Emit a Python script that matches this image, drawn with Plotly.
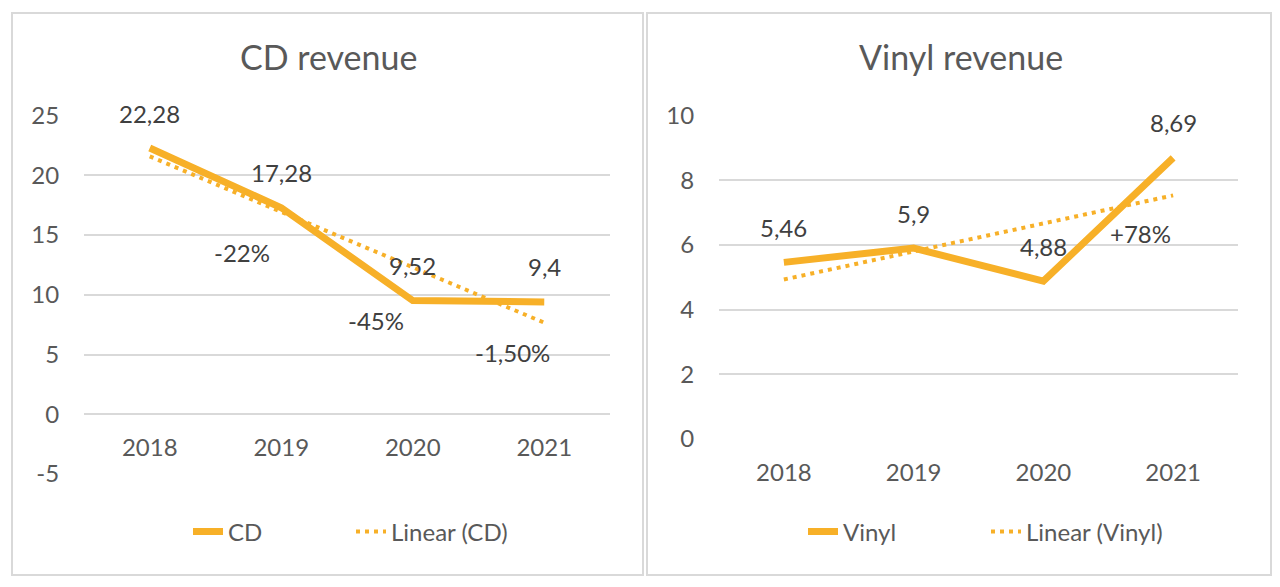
import plotly.graph_objects as go

# ---- data ----
years = ["2018", "2019", "2020", "2021"]
cd_revenue = [22.28, 17.28, 9.52, 9.4]
cd_trend = [21.58, 16.94, 12.30, 7.66]
vinyl_revenue = [5.46, 5.9, 4.88, 8.69]
vinyl_trend = [4.93, 5.80, 6.67, 7.53]

cd_pct_labels = ["-22%", "-45%", "-1,50%"]
cd_pct_x = [0.70, 1.72, 2.755]
cd_pct_y = [13.56, 7.87, 5.19]
vinyl_pct_labels = ["+78%"]
vinyl_pct_x = [2.75]
vinyl_pct_y = [6.36]

cd_ticks = [-5, 0, 5, 10, 15, 20, 25]
vinyl_ticks = [0, 2, 4, 6, 8, 10]

# ---- style ----
OFF = 8                      # page body margin
W, H = 1280 - 2 * OFF, 587 - 2 * OFF
GOLD = "#F7B028"
GRID = "#D9D9D9"
AXIS_TXT = "#595959"
LABEL_TXT = "#404040"
FONT = "Lato"

def px_x(x):
    return (x - OFF) / W

def px_y(y):
    return 1 - (y - OFF) / H

def fmt(v):
    return ("%g" % v).replace(".", ",")

xi = list(range(len(years)))

fig = go.Figure()

fig.add_trace(go.Scatter(x=xi, y=cd_revenue, mode="lines", name="CD",
                         line=dict(color=GOLD, width=7), xaxis="x", yaxis="y",
                         legend="legend"))
fig.add_trace(go.Scatter(x=xi, y=cd_trend, mode="lines", name="Linear (CD)",
                         line=dict(color=GOLD, width=4, dash="4px,5px"), xaxis="x", yaxis="y",
                         legend="legend"))
fig.add_trace(go.Scatter(x=xi, y=vinyl_revenue, mode="lines", name="Vinyl",
                         line=dict(color=GOLD, width=7), xaxis="x2", yaxis="y2",
                         legend="legend2"))
fig.add_trace(go.Scatter(x=xi, y=vinyl_trend, mode="lines", name="Linear (Vinyl)",
                         line=dict(color=GOLD, width=4, dash="4px,5px"), xaxis="x2", yaxis="y2",
                         legend="legend2"))

cd_rng = [-5, 25]
vi_rng = [0, 10]
cd_dom = [px_y(474), px_y(115.5)]
vi_dom = [px_y(439), px_y(115.5)]

def zero_pos(dom, rng):
    return dom[0] + (0 - rng[0]) / (rng[1] - rng[0]) * (dom[1] - dom[0])

xcommon = dict(range=[-0.5, 3.5], tickvals=xi, ticktext=years, showgrid=False,
               zeroline=False, showline=False, ticks="outside", ticklen=12,
               tickcolor="rgba(0,0,0,0)", tickfont=dict(size=24, color=AXIS_TXT, family=FONT),
               anchor="free", fixedrange=True, automargin=False)
ycommon = dict(showgrid=True, gridcolor=GRID, gridwidth=2, zeroline=False, showline=False,
               ticks="outside", ticklen=19, tickcolor="rgba(0,0,0,0)",
               tickfont=dict(size=24, color=AXIS_TXT, family=FONT), fixedrange=True,
               automargin=False)

legcommon = dict(orientation="h", xanchor="left", yanchor="middle",
                 font=dict(size=24, color=AXIS_TXT, family=FONT), bgcolor="rgba(0,0,0,0)",
                 entrywidthmode="pixels")

fig.update_layout(
    width=W, height=H, margin=dict(l=0, r=0, t=0, b=0, pad=0, autoexpand=False),
    paper_bgcolor="white", plot_bgcolor="white",
    font=dict(family=FONT, color=AXIS_TXT),
    xaxis=dict(domain=[px_x(84), px_x(610)], position=zero_pos(cd_dom, cd_rng), **xcommon),
    yaxis=dict(domain=cd_dom, range=cd_rng, tickvals=cd_ticks,
               ticktext=[str(t) for t in cd_ticks], anchor="x", **ycommon),
    xaxis2=dict(domain=[px_x(719), px_x(1238)], position=zero_pos(vi_dom, vi_rng), **xcommon),
    yaxis2=dict(domain=vi_dom, range=vi_rng, tickvals=vinyl_ticks,
                ticktext=[str(t) for t in vinyl_ticks], anchor="x2", **ycommon),
    legend=dict(x=px_x(188), y=px_y(532), entrywidth=118, **legcommon),
    legend2=dict(x=px_x(803), y=px_y(532), entrywidth=138, **legcommon),
    showlegend=True,
)

annos = []
annos.append(dict(text="CD revenue", x=px_x(328), y=px_y(57), xref="paper", yref="paper",
                  showarrow=False, xanchor="center", yanchor="middle",
                  font=dict(size=34, color=AXIS_TXT, family=FONT)))
annos.append(dict(text="Vinyl revenue", x=px_x(961), y=px_y(57), xref="paper", yref="paper",
                  showarrow=False, xanchor="center", yanchor="middle",
                  font=dict(size=34, color=AXIS_TXT, family=FONT)))
for i, v in enumerate(cd_revenue):
    annos.append(dict(text=fmt(v), x=xi[i], y=v, xref="x", yref="y", showarrow=False,
                      yshift=35, font=dict(size=24, color=LABEL_TXT, family=FONT)))
for i, v in enumerate(vinyl_revenue):
    annos.append(dict(text=fmt(v), x=xi[i], y=v, xref="x2", yref="y2", showarrow=False,
                      yshift=35, font=dict(size=24, color=LABEL_TXT, family=FONT)))
for t, x, y in zip(cd_pct_labels, cd_pct_x, cd_pct_y):
    annos.append(dict(text=t, x=x, y=y, xref="x", yref="y", showarrow=False,
                      font=dict(size=24, color=LABEL_TXT, family=FONT)))
for t, x, y in zip(vinyl_pct_labels, vinyl_pct_x, vinyl_pct_y):
    annos.append(dict(text=t, x=x, y=y, xref="x2", yref="y2", showarrow=False,
                      font=dict(size=24, color=LABEL_TXT, family=FONT)))
fig.update_layout(annotations=annos)

shapes = []
for x0, x1 in [(12, 643), (647, 1271)]:
    shapes.append(dict(type="rect", xref="paper", yref="paper", x0=px_x(x0), x1=px_x(x1),
                       y0=px_y(575), y1=px_y(13), line=dict(color=GRID, width=2),
                       fillcolor="rgba(0,0,0,0)", layer="below"))
fig.update_layout(shapes=shapes)

fig.write_html("out.html")
